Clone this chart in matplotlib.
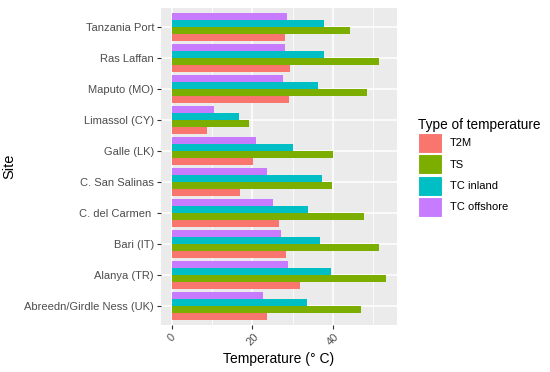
import matplotlib.pyplot as plt
import numpy as np
from matplotlib.patches import Patch

plt.rcParams["font.family"] = ["Liberation Sans", "DejaVu Sans"]

sites = [
    "Abreedn/Girdle Ness (UK)",
    "Alanya (TR)",
    "Bari (IT)",
    "C. del Carmen ",
    "C. San Salinas",
    "Galle (LK)",
    "Limassol (CY)",
    "Maputo (MO)",
    "Ras Laffan",
    "Tanzania Port",
]

t2m = [23.7, 31.7, 28.4, 26.5, 16.9, 20.2, 8.8, 29.1, 29.4, 28.0]
ts = [46.9, 53.2, 51.4, 47.7, 39.8, 40.1, 19.2, 48.5, 51.4, 44.1]
tc_inland = [33.6, 39.5, 36.8, 33.8, 37.2, 30.0, 16.8, 36.2, 37.7, 37.7]
tc_offshore = [22.7, 28.9, 27.1, 25.1, 23.7, 20.9, 10.5, 27.7, 28.0, 28.5]

series = [t2m, ts, tc_inland, tc_offshore]
labels = ["T2M", "TS", "TC inland", "TC offshore"]
colors = ["#F8766D", "#7CAE00", "#00BFC4", "#C77CFF"]

fig = plt.figure(figsize=(5.5, 3.72), dpi=100)
ax = fig.add_axes([0.2927, 0.1263, 0.4291, 0.8522])
ax.set_facecolor("#EBEBEB")

y = np.arange(1, len(sites) + 1)
bh = 0.9 / len(series)
for i, (vals, col) in enumerate(zip(series, colors)):
    ax.barh(y - 0.45 + bh * (i + 0.5), vals, height=bh, color=col, zorder=3)

mx = max(max(s) for s in series)
ax.set_xlim(-0.05 * mx, 1.05 * mx)
ax.set_ylim(0.4, len(sites) + 0.6)

ax.set_xticks([0, 20, 40])
ax.set_xticks([10, 30, 50], minor=True)
ax.set_yticks(y)
ax.set_yticklabels(sites)
ax.grid(True, which="major", color="white", linewidth=1.1, zorder=1)
ax.grid(True, which="minor", axis="x", color="white", linewidth=0.55, zorder=1)
for s in ax.spines.values():
    s.set_visible(False)
ax.tick_params(axis="both", which="major", color="#333333", length=3,
               width=0.8, labelsize=8, labelcolor="#4D4D4D", pad=2)
ax.tick_params(axis="both", which="minor", length=0)
for lbl in ax.get_xticklabels():
    lbl.set_rotation(45)
    lbl.set_ha("center")
    lbl.set_va("top")

ax.set_xlabel("Temperature (° C)", fontsize=10, labelpad=3)
ax.set_ylabel("Site", fontsize=10.5, labelpad=6)

handles = [Patch(facecolor=c, edgecolor="white", linewidth=0.8) for c in colors]
fig.legend(handles, labels, title="Type of temperature", loc="upper left",
           bbox_to_anchor=(0.745, 0.705), frameon=False, fontsize=8,
           title_fontsize=9.8, handlelength=2.2, handleheight=2.4,
           handletextpad=0.7, labelspacing=0.12, alignment="left",
           borderaxespad=0.3)

fig.savefig("out.png", dpi=100)
